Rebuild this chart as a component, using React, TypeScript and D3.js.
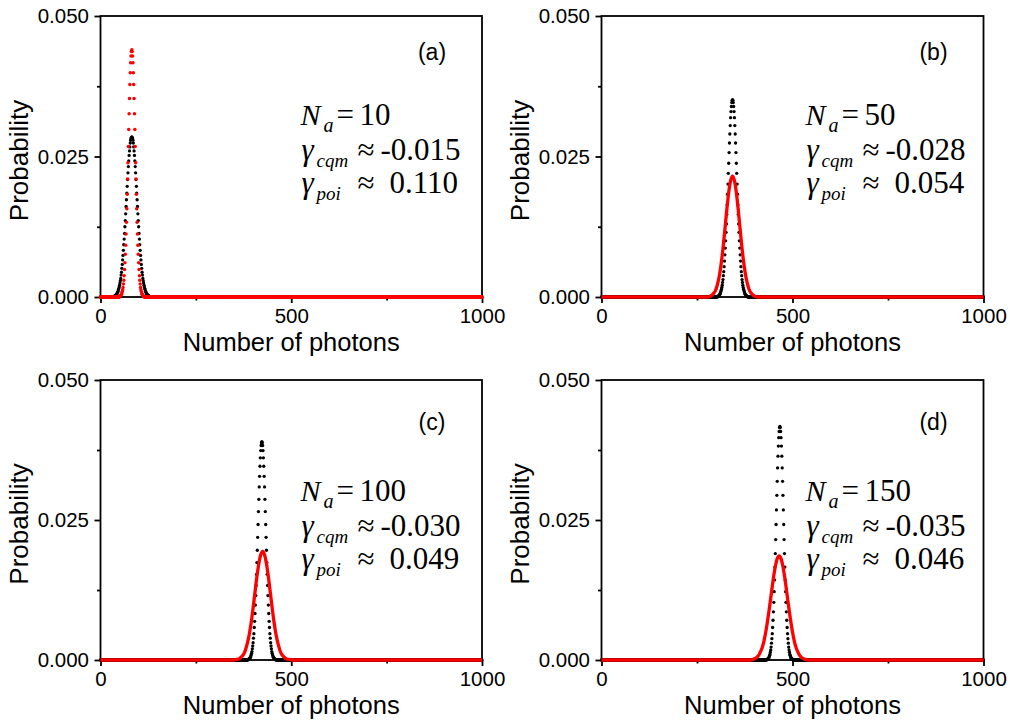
import { useEffect, useRef } from "react";
import * as d3 from "d3";

// Probabilities are stored in units of 1e-4, one value per photon number
// (or per `redStep` photons) beginning at the matching start index.
const blackA = [1,1,2,2,3,3,4,5,6,7,9,10,13,15,18,21,25,29,33,39,44,51,58,66,74,83,93,103,113,125,136,148,161,173,185,197,209,221,232,242,252,260,267,274,279,282,284,285,284,282,279,274,267,260,252,242,232,221,209,197,185,173,161,148,136,125,113,103,93,83,74,66,58,51,44,39,33,29,25,21,18,15,13,10,9,7,6,5,4,3,3,2,2,1,1];
const blackB = [1,1,2,2,3,4,5,7,9,11,14,17,21,26,31,38,45,54,64,75,87,100,115,130,147,164,183,201,220,238,257,274,290,305,319,330,339,346,350,351,350,346,339,330,319,305,290,274,257,238,220,201,183,164,147,130,115,100,87,75,64,54,45,38,31,26,21,17,14,11,9,7,5,4,3,2,2,1,1];
const blackC = [1,1,2,2,3,4,5,7,9,12,15,20,25,31,39,47,58,69,83,98,115,133,153,174,196,219,242,265,287,309,328,346,361,374,383,388,390,388,383,374,361,346,328,309,287,265,242,219,196,174,153,133,115,98,83,69,58,47,39,31,25,20,15,12,9,7,5,4,3,2,2,1,1];
const blackD = [1,1,2,2,3,4,6,8,10,14,18,23,30,38,47,58,71,86,103,122,143,166,190,215,242,268,294,319,343,364,382,397,408,415,417,415,408,397,382,364,343,319,294,268,242,215,190,166,143,122,103,86,71,58,47,38,30,23,18,14,10,8,6,4,3,2,2,1,1];
const blackStart = [35, 304, 387, 433];

const redA = [1,1,2,3,4,5,7,10,13,17,23,30,38,49,61,76,92,112,133,157,183,210,239,268,298,326,353,378,399,417,429,437,440,437,429,417,399,378,353,326,298,268,239,210,183,157,133,112,92,76,61,49,38,30,23,17,13,10,7,5,4,3,2,1,1];
const redB = [0,1,3,6,11,21,36,58,86,120,155,186,207,215,207,186,155,120,86,58,36,21,11,6,3,1,0];
const redC = [0,1,1,3,6,10,18,30,46,67,93,121,149,172,188,194,188,172,149,121,93,67,46,30,18,10,6,3,1,1,0];
const redD = [0,1,2,4,7,13,21,33,50,71,95,121,146,167,181,186,181,167,146,121,95,71,50,33,21,13,7,4,2,1,0];
const redStart = [50, 278, 350, 390];
const redStep = [1, 5, 5, 5];

const panelLabels = ["(a)", "(b)", "(c)", "(d)"];
const naValues = ["10", "50", "100", "150"];
const gammaCqm = ["-0.015", "-0.028", "-0.030", "-0.035"];
const gammaPoi = ["0.110", "0.054", "0.049", "0.046"];

const xTicks = [0, 500, 1000];
const xMinorTicks = [250, 750];
const yTicks = [0, 0.025, 0.05];
const yMinorTicks = [0.0125, 0.0375];
const unit = 1e-4;
const nMax = 1000;

const W = 1010;
const H = 726;
const cols = [
  { x0: 100.5, x1: 482, textDx: 200 },
  { x0: 601.5, x1: 983.5, textDx: 204 },
];
const rows = [
  { top: 16, bottom: 297, textDy: 109, labelDy: 44 },
  { top: 380, bottom: 660, textDy: 121, labelDy: 50 },
];
const sans = "Arial, 'Liberation Sans', sans-serif";
const serif = "'Times New Roman', 'Liberation Serif', serif";

export default function App() {
  const ref = useRef<SVGSVGElement | null>(null);

  useEffect(() => {
    if (!ref.current) return;
    const svg = d3.select(ref.current);
    svg.selectAll("*").remove();

    const blacks = [blackA, blackB, blackC, blackD];
    const reds = [redA, redB, redC, redD];

    panelLabels.forEach((label, i) => {
      const { x0, x1, textDx } = cols[i % 2];
      const { top, bottom, textDy, labelDy } = rows[Math.floor(i / 2)];

      const x = d3.scaleLinear().domain([0, nMax]).range([x0, x1]);
      const y = d3.scaleLinear().domain([0, 0.05]).range([bottom, top]);
      const g = svg.append("g");

      // axes
      const styleAxis = (a: d3.Selection<SVGGElement, unknown, null, undefined>) => {
        a.select(".domain").remove();
        a.selectAll("line").attr("stroke", "#000").attr("stroke-width", 1.8);
        a.attr("font-size", 20.5).attr("font-family", sans);
        a.selectAll("text").attr("fill", "#000");
      };
      const xa = g.append("g").attr("transform", `translate(0,${bottom})`)
        .call(d3.axisBottom(x).tickValues(xTicks).tickSize(6).tickSizeOuter(0).tickPadding(5.5).tickFormat(d3.format("d")));
      styleAxis(xa);
      const xm = g.append("g").attr("transform", `translate(0,${bottom})`)
        .call(d3.axisBottom(x).tickValues(xMinorTicks).tickSize(3.5).tickSizeOuter(0).tickFormat(() => ""));
      styleAxis(xm);
      const ya = g.append("g").attr("transform", `translate(${x0},0)`)
        .call(d3.axisLeft(y).tickValues(yTicks).tickSize(6).tickSizeOuter(0).tickPadding(5.5).tickFormat(d3.format(".3f")));
      styleAxis(ya);
      const ym = g.append("g").attr("transform", `translate(${x0},0)`)
        .call(d3.axisLeft(y).tickValues(yMinorTicks).tickSize(3.5).tickSizeOuter(0).tickFormat(() => ""));
      styleAxis(ym);

      g.append("rect")
        .attr("x", x0).attr("y", top)
        .attr("width", x1 - x0).attr("height", bottom - top)
        .attr("fill", "none").attr("stroke", "#000").attr("stroke-width", 1.8);

      // titles
      g.append("text")
        .attr("transform", `translate(${x0 - 72.5},${(top + bottom) / 2 + 4}) rotate(-90)`)
        .attr("text-anchor", "middle").attr("font-family", sans).attr("font-size", 26)
        .text("Probability");
      g.append("text")
        .attr("x", (x0 + x1) / 2).attr("y", bottom + 54)
        .attr("text-anchor", "middle").attr("font-family", sans).attr("font-size", 25.5)
        .text("Number of photons");

      // black dots: one per photon number
      const bArr = blacks[i];
      const bStart = blackStart[i];
      const bPts = d3.range(0, nMax + 1).map((n) => {
        const k = n - bStart;
        return [n, (k >= 0 && k < bArr.length ? bArr[k] : 0) * unit] as [number, number];
      });
      g.append("g").selectAll("circle").data(bPts).join("circle")
        .attr("cx", (d) => x(d[0])).attr("cy", (d) => y(d[1]))
        .attr("r", 1.65).attr("fill", "#000");

      // red series
      const rArr = reds[i];
      const rStart = redStart[i];
      const step = redStep[i];
      if (step === 1) {
        const rPts = d3.range(0, nMax + 1).map((n) => {
          const k = n - rStart;
          return [n, (k >= 0 && k < rArr.length ? rArr[k] : 0) * unit] as [number, number];
        });
        g.append("g").selectAll("circle").data(rPts).join("circle")
          .attr("cx", (d) => x(d[0])).attr("cy", (d) => y(d[1]))
          .attr("r", 1.75).attr("fill", "#ff0000");
      } else {
        const rPts: [number, number][] = [
          [0, 0],
          ...rArr.map((v, k) => [rStart + k * step, v * unit] as [number, number]),
          [nMax, 0],
        ];
        const line = d3.line<[number, number]>()
          .x((d) => x(d[0])).y((d) => y(d[1]))
          .curve(d3.curveMonotoneX);
        g.append("path").attr("d", line(rPts)!)
          .attr("fill", "none").attr("stroke", "#ff0000").attr("stroke-width", 3.3);
      }

      // panel label
      g.append("text")
        .attr("x", x1 - 50).attr("y", top + labelDy)
        .attr("text-anchor", "middle").attr("font-family", sans).attr("font-size", 23)
        .text(label);

      // annotation
      const ax = x0 + textDx;
      const ay = top + textDy;
      const t = (tx: number, ty: number, s: string, size: number, italic: boolean) =>
        g.append("text").attr("x", tx).attr("y", ty)
          .attr("font-family", serif).attr("font-size", size)
          .attr("font-style", italic ? "italic" : "normal").text(s);
      t(ax, ay, "N", 30, true);
      t(ax + 23, ay + 7, "a", 20, true);
      t(ax + 36, ay, "=", 31, false);
      t(ax + 59, ay, naValues[i], 31, false);

      const l2 = ay + 35;
      t(ax + 1, l2, "\u03b3", 31, true);
      t(ax + 16, l2 + 7, "cqm", 19, true);
      t(ax + 57, l2, "\u2248", 31, false);
      t(ax + 80, l2, gammaCqm[i], 31, false);

      const l3 = ay + 68;
      t(ax + 1, l3, "\u03b3", 31, true);
      t(ax + 16, l3 + 7, "poi", 19, true);
      t(ax + 57, l3, "\u2248", 31, false);
      t(ax + 89, l3, gammaPoi[i], 31, false);
    });
  }, []);

  return (
    <svg
      ref={ref}
      width={W}
      height={H}
      style={{ position: "absolute", left: 0, top: 0, background: "#fff", display: "block" }}
    />
  );
}
